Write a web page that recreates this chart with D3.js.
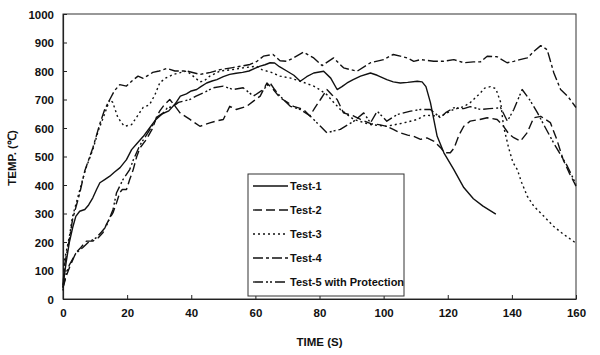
<!DOCTYPE html>
<html><head><meta charset="utf-8">
<script src="https://cdn.jsdelivr.net/npm/d3@7"></script>
<style>
body{margin:0;background:#fff;}
svg{display:block;}
text{font-family:"Liberation Sans",Arial,sans-serif;fill:#111;}
</style></head>
<body><svg id="c" width="600" height="355"></svg>
<script>
// ---- data ----
const xTicks = [0,20,40,60,80,100,120,140,160];
const yTicks = [0,100,200,300,400,500,600,700,800,900,1000];
const seriesNames = ["Test-1","Test-2","Test-3","Test-4","Test-5 with Protection"];

const test1 = [[0,40],[0.5,90],[1,130],[2,200],[3,250],[4,290],[5.2,308],[6.8,314],[8,330],[9.3,355],[10.5,385],[11.5,408],[13,419],[14.6,431],[16,445],[17.8,461],[19.8,489],[21.4,524],[23,545],[25,570],[27,600],[29,630],[31,650],[33,660],[35,685],[36.6,712],[38.5,720],[40,730],[41.7,735],[43,745],[44.8,758],[46.5,765],[48,770],[50,780],[52,788],[54,792],[56,795],[58,800],[60,810],[61.5,817],[63,822],[64.6,829],[66,828],[67.5,815],[69.8,800],[72,785],[74,764],[76,780],[78.2,793],[81.3,799],[83.5,775],[85.5,735],[87,745],[88.6,758],[90.5,770],[92.8,782],[95.9,793],[98,785],[101,770],[103,762],[105.2,758],[107.5,760],[110.5,764],[112,762],[113.2,745],[114.6,689],[116.7,571],[118.8,513],[121.9,454],[125,391],[128,352],[131,326],[135,298]];

const test2 = [[0,40],[1,80],[2,110],[4,162],[5.5,180],[7.3,203],[9.3,203],[11,215],[12.5,233],[13.5,261],[15.6,303],[16.7,338],[17.7,373],[18.5,384],[19.8,384],[20.8,419],[21.9,454],[23,500],[24,530],[26,560],[28,600],[29.2,640],[30.2,660],[31.5,680],[33.3,700],[35,676],[36.5,653],[39.6,630],[42.7,606],[45.8,618],[48,625],[50,630],[52,676],[54,665],[57.3,676],[59.5,695],[61.5,712],[63.6,758],[65.6,735],[67.7,706],[70,690],[71.9,676],[75,665],[77,642],[78.5,670],[80.3,700],[82.3,735],[84,715],[85.5,700],[87.5,653],[90.7,642],[92.8,630],[96,615],[98.5,612],[101,606],[103,595],[105.2,583],[107.5,575],[109.4,571],[111.5,560],[113.5,565],[115.6,554],[117.7,532],[119,513],[120.8,513],[122,530],[123.5,575],[125,606],[127,624],[130,630],[132.3,636],[135.4,630],[137.4,606],[139,580],[140.6,566],[142.7,554],[144.8,584],[146.8,636],[149,641],[152,619],[154,560],[156,489],[158,440],[160,396]];

const test3 = [[0,30],[0.5,138],[2,220],[3,290],[5,373],[7,454],[9.3,524],[11,590],[13,650],[14.6,700],[15.5,690],[17.1,637],[18.7,612],[19.3,606],[21.4,612],[22.9,637],[25,672],[27,682],[28.7,717],[30.2,759],[32,775],[34.4,788],[38.6,800],[40.6,782],[42.7,762],[44,765],[45.8,782],[49,800],[53,805],[56,811],[60.3,817],[62,805],[65,795],[67.7,782],[71,775],[74,764],[78.2,747],[80,735],[82.3,717],[84,695],[86.5,665],[90.7,630],[95.9,612],[101,606],[106.3,618],[110.5,630],[113,645],[117.7,641],[121.8,665],[125,675],[127,689],[130.2,723],[131.5,740],[133.3,745],[135,738],[136.5,690],[137.4,606],[139,530],[140.3,480],[141.7,454],[143,410],[144.8,361],[146.8,326],[150,290],[153,255],[156,228],[160,196]];

const test4 = [[0,50],[0.5,120],[2,210],[3,280],[5.2,370],[6.8,450],[9.3,530],[11.5,615],[13,665],[14.6,700],[16,730],[17.7,752],[19.8,747],[21.5,765],[23.4,782],[25,774],[28,795],[30,800],[32.4,809],[34.9,800],[38.6,800],[42.7,788],[46,795],[49,805],[53,812],[56,818],[58.3,823],[60.5,834],[62.5,852],[65.5,858],[67.7,836],[69.8,834],[71.9,846],[75,866],[78.2,846],[80.8,819],[84.4,846],[87.5,811],[91.7,799],[95.9,829],[100,840],[103,858],[105.2,852],[107.3,846],[109.4,834],[111.5,840],[115.6,834],[118.7,834],[121.9,840],[125,829],[128,832],[130.2,832],[132.3,852],[135.4,850],[138.5,829],[140.6,834],[142.5,840],[144.8,846],[147,870],[149,889],[151,875],[153.1,793],[155.2,735],[157.5,710],[160,672]];

const test5 = [[0,40],[1,90],[2,120],[4,160],[6.2,181],[8,200],[10.4,215],[12,235],[13.5,255],[15.6,314],[16.7,373],[18.7,419],[20.8,454],[22,490],[24,540],[26,575],[28,610],[29.5,640],[31.3,653],[32.5,670],[34.4,676],[36,690],[39.6,700],[41.5,712],[43.7,723],[46.9,741],[50,747],[53,735],[56.2,741],[59.4,712],[62.5,735],[64.6,758],[66,735],[67.7,712],[70.9,676],[74,665],[77.1,642],[80.3,606],[82.3,583],[84.5,590],[86.5,595],[90.7,624],[93.8,653],[95.9,618],[98,659],[101,624],[104.2,647],[108.4,659],[111.5,665],[114.6,665],[117.7,636],[119.5,655],[121.9,671],[125,668],[127,675],[130.3,665],[133,668],[136.5,671],[138.6,624],[140.6,665],[143.2,735],[145.5,700],[148,653],[150.5,600],[153,548],[157.3,466],[160,402]];

const seriesData = [test1,test2,test3,test4,test5];
const dashes = ["none","9,4","2,3","10,3,3,3","10,3,2,2,2,3"];

// ---- layout ----
const m = {l:63, t:14, r:576, b:299};
const svg = d3.select("#c");
const x = d3.scaleLinear().domain([0,160]).range([m.l, m.r]);
const y = d3.scaleLinear().domain([0,1000]).range([m.b, m.t]);

// frame
svg.append("rect").attr("x",m.l).attr("y",m.t).attr("width",m.r-m.l).attr("height",m.b-m.t)
  .attr("fill","none").attr("stroke","#333").attr("stroke-width",1);

// axes (inward ticks)
const xAxis = d3.axisBottom(x).tickValues(xTicks).tickFormat(d3.format("d")).tickSizeInner(-4).tickSizeOuter(0).tickPadding(10);
const gx = svg.append("g").attr("transform",`translate(0,${m.b})`).call(xAxis);
const yAxis = d3.axisLeft(y).tickValues(yTicks).tickFormat(d3.format("d")).tickSizeInner(-4).tickSizeOuter(0).tickPadding(9);
const gy = svg.append("g").attr("transform",`translate(${m.l},0)`).call(yAxis);
[gx,gy].forEach(g=>{
  g.select(".domain").attr("stroke","#222").attr("stroke-width",1.2);
  g.selectAll(".tick line").attr("stroke","#222");
  g.selectAll(".tick text").style("font-family","'Liberation Sans',Arial,sans-serif")
   .style("font-size","11.5px").style("font-weight","bold").attr("fill","#111");
});
gy.selectAll(".tick text").attr("dy","0.35em");

// axis titles
svg.append("text").attr("x",(m.l+m.r)/2).attr("y",346).attr("text-anchor","middle")
  .style("font-size","11.5px").style("font-weight","bold").text("TIME (S)");
svg.append("text").attr("transform","translate(16,158) rotate(-90)").attr("text-anchor","middle")
  .style("font-size","11.5px").style("font-weight","bold").text("TEMP. (℃)");

// lines
const line = d3.line().x(d=>x(d[0])).y(d=>y(d[1]));
seriesData.forEach((s,i)=>{
  svg.append("path").datum(s).attr("d",line).attr("fill","none")
    .attr("stroke","#111").attr("stroke-width",1.4).attr("stroke-linejoin","round")
    .attr("stroke-dasharray",dashes[i]);
});

// legend
const lg = svg.append("g");
lg.append("rect").attr("x",248).attr("y",174).attr("width",156).attr("height",122)
  .attr("fill","#fff").attr("stroke","#333").attr("stroke-width",1);
seriesNames.forEach((n,i)=>{
  const yy = 186 + i*24;
  lg.append("line").attr("x1",253).attr("x2",288).attr("y1",yy).attr("y2",yy)
    .attr("stroke","#111").attr("stroke-width",1.3).attr("stroke-dasharray",dashes[i]);
  lg.append("text").attr("x",290).attr("y",yy).attr("dy","0.35em")
    .style("font-size","11px").style("font-weight","bold").text(n);
});
</script></body></html>
